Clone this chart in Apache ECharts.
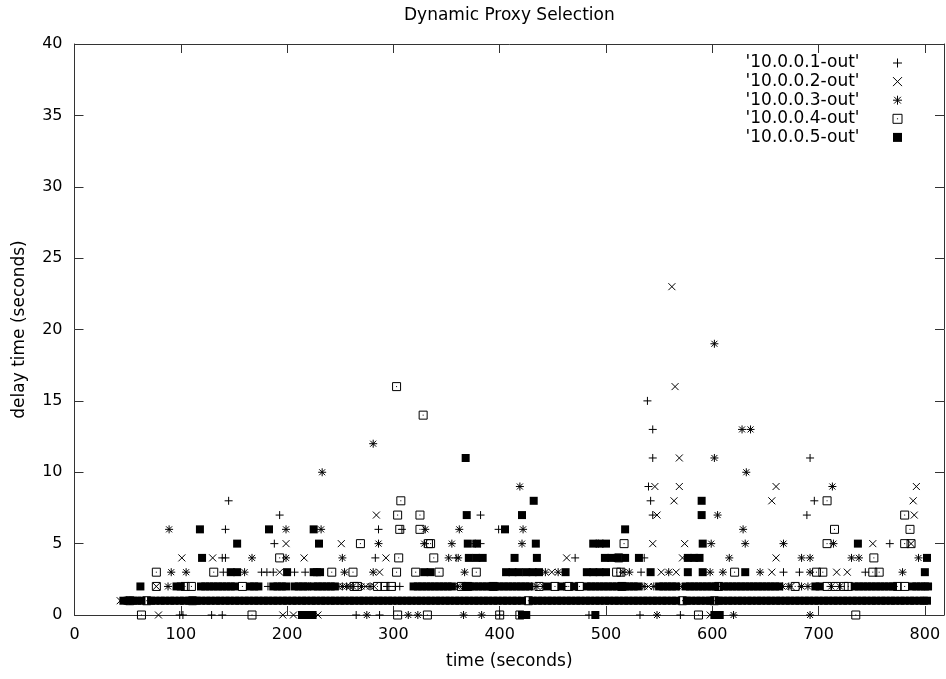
<!DOCTYPE html>
<html>
<head>
<meta charset="utf-8">
<script src="https://cdn.jsdelivr.net/npm/echarts@6/dist/echarts.min.js"></script>
<style>html,body{margin:0;padding:0;background:#fff}#chart{width:946px;height:679px}</style>
</head>
<body>
<div id="chart"></div>
<script>
const chartTitle = 'Dynamic Proxy Selection';
const xAxisName = 'time (seconds)';
const yAxisName = 'delay time (seconds)';
const seriesNames = ["'10.0.0.1-out'", "'10.0.0.2-out'", "'10.0.0.3-out'", "'10.0.0.4-out'", "'10.0.0.5-out'"];

// series 1 (+) : [time, delay]
const s1Points = [
  [539,15],[544,13],[544,11],[692,11],[540,9],[145,8],[542,8],[696,8],[193,7],[382,7],[544,7],[689,7],
  [142,6],[286,6],[308,6],[399,6],
  [188,5],[382,5],[767,5],
  [139,4],[142,4],[283,4],[359,4],[471,4],[536,4],
  [140,3],[176,3],[181,3],[187,3],[207,3],[217,3],[533,3],[667,3],[682,3],[744,3],
  [182,2],[220,2],[294,2],[302,2],[306,2],[430,2],[460,2],[534,2],[608,2],
  [99,0],[102,0],[129,0],[139,0],[265,0],[287,0],[400,0],[484,0],[532,0],[570,0]
];
// series 2 (x)
const s2Points = [
  [562,23],[565,16],[569,11],[546,9],[569,9],[660,9],[792,9],[564,8],[656,8],[789,8],[284,7],[548,7],[790,7],
  [199,5],[251,5],[544,5],[574,5],[751,5],[787,5],
  [101,4],[130,4],[216,4],[293,4],[463,4],[572,4],[660,4],
  [193,3],[287,3],[449,3],[552,3],[566,3],[656,3],[717,3],[727,3],
  [77,2],[248,2],[259,2],[274,2],[282,2],[362,2],[540,2],[570,2],[674,2],[700,2],
  [43,1],
  [79,0],[196,0],[206,0],[229,0],[598,0]
];
// series 3 (*)
const s3Points = [
  [602,19],[628,13],[636,13],[281,12],[602,11],[233,10],[632,10],[419,9],[713,9],[605,7],
  [89,6],[199,6],[232,6],[330,6],[362,6],[422,6],[629,6],
  [286,5],[329,5],[355,5],[377,5],[421,5],[493,5],[599,5],[631,5],[667,5],[714,5],
  [167,4],[199,4],[252,4],[352,4],[361,4],[616,4],[684,4],[692,4],[731,4],[738,4],[794,4],
  [91,3],[105,3],[160,3],[254,3],[281,3],[367,3],[443,3],[455,3],[516,3],[522,3],[559,3],[598,3],[610,3],[645,3],[692,3],[779,3],
  [88,2],[252,2],[256,2],[262,2],[270,2],[278,2],[360,2],[435,2],[441,2],[536,2],[545,2],[568,2],[666,2],[672,2],[684,2],[690,2],[712,2],[720,2],
  [275,0],[314,0],[323,0],[366,0],[383,0],[548,0],[620,0],[692,0]
];
// series 4 (open square)
const s4Points = [
  [303,16],[328,14],[307,8],[708,8],[304,7],[325,7],[781,7],[306,6],[325,6],[715,6],[786,6],
  [269,5],[333,5],[335,5],[517,5],[708,5],[781,5],[787,5],
  [193,4],[305,4],[338,4],[512,4],[752,4],
  [77,3],[131,3],[242,3],[262,3],[303,3],[321,3],[343,3],[378,3],[510,3],[514,3],[621,3],[698,3],[704,3],[751,3],[757,3],
  [77,2],[104,2],[110,2],[158,2],[263,2],[266,2],[285,2],[292,2],[298,2],[364,2],[370,2],[394,2],[437,2],[452,2],[465,2],[475,2],[515,2],[606,2],[678,2],[708,2],[716,2],[724,2],[728,2],[774,2],[781,2],
  [52,1],[68,1],[111,1],[427,1],[572,1],[602,1],
  [63,0],[167,0],[304,0],[332,0],[400,0],[419,0],[587,0],[735,0]
];
// series 5 (filled square)
const s5Points = [
  [368,11],[369,7],[421,7],[590,7],[432,8],[590,8],[118,6],[183,6],[225,6],[405,6],[518,6],
  [153,5],[230,5],[370,5],[378,5],[434,5],[488,5],[494,5],[500,5],[591,5],[737,5],
  [120,4],[371,4],[378,4],[384,4],[414,4],[435,4],[499,4],[505,4],[511,4],[518,4],[531,4],[577,4],[583,4],[588,4],[802,4],
  [147,3],[153,3],[200,3],[225,3],[228,3],[231,3],[329,3],[335,3],[406,3],[412,3],[418,3],[425,3],[431,3],[437,3],[462,3],[482,3],[488,3],[494,3],[500,3],[542,3],[577,3],[591,3],[631,3],[800,3],
  [214,0],[219,0],[224,0],[421,0],[425,0],[490,0],[602,0],[607,0]
];
// dense band of series 5 at delay = 1 (times)
const s5TimesAtDelay1 = [46,50,55,59,63,72,76,81,85,90,94,99,103,108,115,119,124,128,133,137,142,146,151,155,160,164,169,173,178,182,187,191,196,200,205,209,214,218,223,227,232,236,241,245,250,254,259,263,268,272,277,281,286,290,295,299,304,308,313,317,322,326,331,335,340,344,349,353,358,362,367,371,376,380,385,389,394,398,403,407,412,416,421,431,436,440,445,449,454,458,463,467,472,476,481,485,490,494,499,503,508,512,517,521,526,530,535,539,544,548,553,557,562,566,576,580,585,589,594,598,606,610,615,619,624,628,633,637,642,646,651,655,660,664,669,673,678,682,687,691,696,700,705,709,714,718,723,727,732,736,741,745,750,754,759,763,768,772,777,781,786,790,795,799,802];
// dense band of series 5 at delay = 2 (times)
const s5TimesAtDelay2 = [62,96,100,119,123,127,131,135,139,143,147,151,165,169,173,187,191,195,199,207,211,215,219,225,229,233,237,241,245,319,323,327,331,335,339,343,347,351,355,368,372,376,380,384,388,392,396,400,404,408,412,416,420,424,428,445,458,470,482,486,490,494,498,502,506,510,514,518,522,526,530,550,554,558,562,566,575,579,583,587,591,595,599,603,611,615,619,623,627,631,635,639,643,647,651,655,659,663,697,701,734,738,742,746,750,754,758,762,766,770,788,792,796,800,803];

const s5Points_all = s5Points
  .concat(s5TimesAtDelay1.map(function (t) { return [t, 1]; }))
  .concat(s5TimesAtDelay2.map(function (t) { return [t, 2]; }));

const FONT = 'DejaVu Sans';
const INK = '#000';
const FRAME = '#333';

const SYM_PLUS = 'path://M0,4H8M4,0V8';
const SYM_CROSS = 'path://M0,0L8,8M8,0L0,8';
const SYM_STAR = 'path://M0,4H8M4,0V8M1,1L7,7M7,1L1,7';
const SYM_BOX = 'path://M0,0H8V8H0ZM3.5,4H4.5';
const SYM_FILLED = 'path://M0,0H8V8H0Z';

function strokeSeries(name, data, symbol, size) {
  return {
    name: name, type: 'scatter', data: data, symbol: symbol, symbolSize: size,
    itemStyle: { color: 'rgba(0,0,0,0)', borderColor: INK, borderWidth: 1, opacity: 1 },
    emphasis: { disabled: true }, animation: false
  };
}

const chart = echarts.init(document.getElementById('chart'), null, { renderer: 'canvas' });

const axisCommon = {
  axisLine: { show: true, onZero: false, lineStyle: { color: FRAME, width: 1 } },
  axisTick: { show: true, inside: true, length: 9, lineStyle: { color: FRAME, width: 1 } },
  splitLine: { show: false }
};

chart.setOption({
  backgroundColor: '#fff',
  animation: false,
  title: {
    text: chartTitle, left: 404, top: 7, padding: 0,
    textStyle: { fontFamily: FONT, fontSize: 17, fontWeight: 'normal', color: INK }
  },
  legend: {
    orient: 'vertical', right: 43.5, top: 54, padding: 0,
    align: 'right', itemWidth: 66, itemHeight: 9, itemGap: 0.6,
    data: seriesNames,
    itemStyle: { borderWidth: 1 },
    textStyle: { fontFamily: FONT, fontSize: 17, color: INK, lineHeight: 18 },
    selectedMode: false
  },
  grid: { left: 74.5, right: 2, top: 44, bottom: 64, containLabel: false, outerBoundsMode: 'none' },
  xAxis: [
    Object.assign({
      type: 'value', position: 'bottom', min: 0, max: 818, interval: 100,
      name: xAxisName, nameLocation: 'middle', nameGap: 38,
      nameTextStyle: { fontFamily: FONT, fontSize: 17, color: INK },
      axisLabel: { show: true, margin: 12, fontFamily: FONT, fontSize: 16, color: INK, showMaxLabel: false,
        formatter: function (v) { return v % 100 === 0 ? String(v) : ''; } }
    }, axisCommon),
    Object.assign({
      type: 'value', position: 'top', min: 0, max: 818, interval: 100,
      axisLabel: { show: false }
    }, axisCommon)
  ],
  yAxis: [
    Object.assign({
      type: 'value', position: 'left', min: 0, max: 40, interval: 5,
      name: yAxisName, nameLocation: 'middle', nameGap: 46, nameRotate: 90,
      nameTextStyle: { fontFamily: FONT, fontSize: 17, color: INK },
      axisLabel: { show: true, margin: 12, fontFamily: FONT, fontSize: 16, color: INK }
    }, axisCommon),
    Object.assign({
      type: 'value', position: 'right', min: 0, max: 40, interval: 5,
      axisLabel: { show: false }
    }, axisCommon)
  ],
  series: [
    strokeSeries(seriesNames[0], s1Points, SYM_PLUS, 8),
    strokeSeries(seriesNames[1], s2Points, SYM_CROSS, 7),
    strokeSeries(seriesNames[2], s3Points, SYM_STAR, 8),
    strokeSeries(seriesNames[3], s4Points, SYM_BOX, 8),
    {
      name: seriesNames[4], type: 'scatter', data: s5Points_all, symbol: SYM_FILLED, symbolSize: 8,
      itemStyle: { color: INK, opacity: 1 }, emphasis: { disabled: true }, animation: false
    }
  ]
});
</script>
</body>
</html>
